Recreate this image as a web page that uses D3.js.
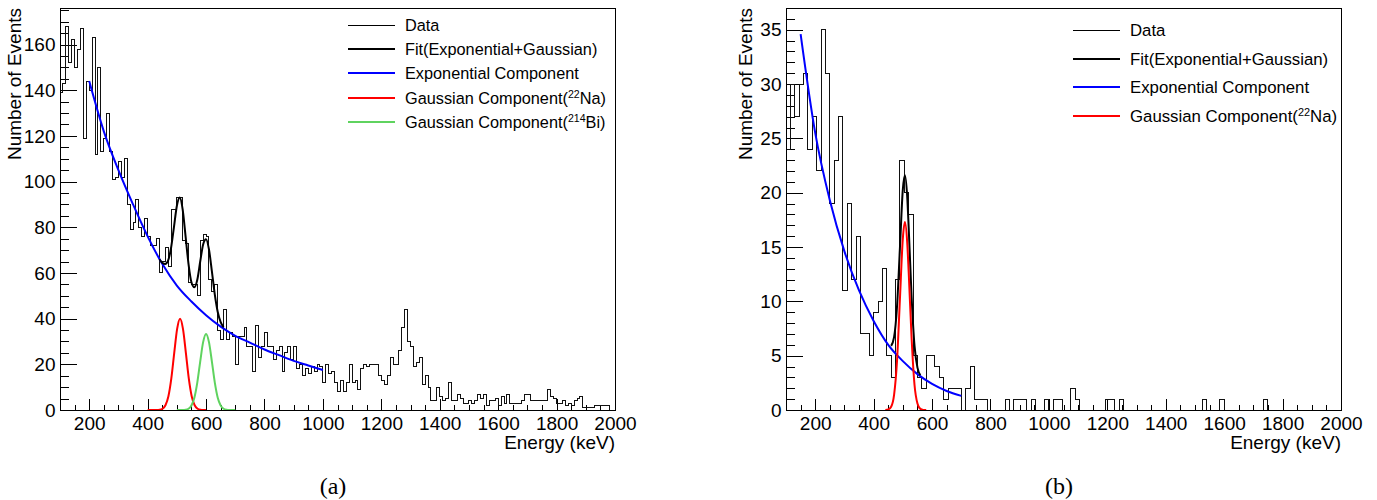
<!DOCTYPE html>
<html>
<head>
<meta charset="utf-8">
<title>Energy spectra</title>
<script src="https://cdn.jsdelivr.net/npm/d3@7"></script>
<style>
  body { margin: 0; background: #fff; }
  svg text { font-family: "Liberation Sans", Arial, Helvetica, sans-serif; fill: #000; }
  svg text.caption { font-family: "Liberation Serif", "DejaVu Serif", serif; }
</style>
</head>
<body>
<svg id="chart" width="1377" height="500"></svg>
<script>
// ---------- data ----------
// panel (a): 10 keV bins starting at 100 keV
var binStartA = 100, binWidthA = 10
var countsA = [
  139, 143, 168, 152, 162, 150, 158, 167, 119, 144,
  140, 163, 112, 150, 113, 119, 130, 113, 101, 102,
  109, 102, 110, 90, 79, 82, 92, 80, 76, 84,
  76, 72, 72, 75, 60, 65, 71, 63, 88, 88,
  93, 93, 74, 73, 56, 55, 55, 50, 74, 77,
  76, 57, 52, 55, 35, 31, 44, 31, 34, 32,
  20, 32, 32, 36, 28, 28, 17, 37, 23, 28,
  34, 28, 28, 22, 26, 28, 17, 25, 28, 22,
  28, 18, 20, 15, 18, 16, 19, 17, 20, 19,
  12, 20, 16, 17, 12, 8, 13, 8, 12, 20,
  12, 13, 9, 18, 20, 19, 20, 20, 20, 15,
  13, 11, 15, 23, 20, 20, 26, 36, 44, 30,
  28, 19, 21, 23, 11, 15, 10, 4, 4, 10,
  6, 4, 5, 12, 4, 4, 7, 5, 3, 3,
  4, 3, 4, 7, 5, 7, 2, 4, 4, 5,
  2, 6, 3, 7, 3, 3, 3, 3, 4, 7,
  7, 4, 4, 4, 4, 4, 4, 9, 6, 5,
  3, 3, 4, 2, 3, 2, 4, 5, 6, 1,
  1, 1, 1, 2, 2, 2, 2, 2
]
// panel (b): 15 keV bins starting at 100 keV
var binStartB = 100, binWidthB = 15
var countsB = [
  24, 30, 27, 30, 31, 24, 27, 22, 35, 31,
  19, 23, 27, 11, 19, 12, 16, 7, 7, 5,
  9, 10, 13, 5, 3, 12, 23, 20, 18, 5,
  3, 2, 5, 5, 4, 3, 1, 2, 2, 2,
  0, 2, 4, 1, 1, 1, 0, 0, 0, 0,
  1, 0, 1, 1, 1, 0, 1, 0, 0, 1,
  0, 1, 1, 0, 0, 2, 1, 0, 0, 0,
  0, 0, 0, 1, 1, 0, 1, 0, 0, 0,
  0, 0, 0, 0, 0, 0, 0, 0, 0, 0,
  0, 0, 0, 0, 0, 1, 0, 0, 0, 1,
  0, 0, 0, 0, 0, 0, 0, 0, 0, 1,
  0, 0, 0, 0, 0, 0, 0, 0, 0, 0,
  0, 0, 0, 0, 0, 0
]

// fitted curves, [energy keV, events] points
var fitA = [[440, 66], [450, 64.5], [460, 63.9], [470, 65.4], [480, 70.8], [490, 80], [500, 89.3],
  [510, 93], [520, 87.7], [530, 75.9], [540, 63.9], [550, 55.9], [560, 53.7], [570, 57], [580, 65],
  [590, 72.5], [600, 74.8], [610, 70.3], [620, 60.7], [630, 50.5], [640, 42.9], [650, 38.5], [660, 36.3]]
var expA = [[200, 144], [250, 122], [300, 105], [350, 90], [400, 76], [450, 64], [500, 54.5],
  [550, 47.5], [600, 41.5], [650, 36.5], [700, 32.5], [750, 29.5], [800, 26.5], [850, 24],
  [900, 21.5], [950, 19.5], [1000, 17.5]]
var naA = [[400, 0], [431, 0.02], [441, 0.12], [451, 0.55], [461, 2.1], [471, 5.9], [481, 13.7],
  [491, 24.9], [501, 35.5], [511, 40], [521, 35.5], [531, 24.9], [541, 13.7], [551, 5.9],
  [561, 2.1], [571, 0.55], [581, 0.12], [591, 0.02], [600, 0]]
var biA = [[500, 0], [520, 0.02], [530, 0.13], [540, 0.56], [550, 2], [560, 5.4], [570, 12],
  [580, 21.2], [590, 29.7], [600, 33.3], [610, 29.7], [620, 21.2], [630, 12], [640, 5.4],
  [650, 2], [660, 0.56], [670, 0.13], [680, 0.02], [700, 0]]

var fitB = [[460, 5.9], [470, 6.7], [480, 9.5], [490, 14.9], [500, 20.3], [507, 21.6], [515, 19.6],
  [520, 16.8], [530, 10.4], [540, 5.9], [550, 3.9], [560, 3.2]]
var expB = [[150, 34.6], [200, 25.5], [250, 19.3], [300, 14.6], [350, 11], [400, 8.2], [450, 6],
  [500, 4.5], [550, 3.3], [600, 2.4], [650, 1.75], [700, 1.3]]
var naB = [[440, 0], [450, 0.04], [460, 0.3], [470, 1.4], [480, 4.5], [490, 10.2], [500, 15.8],
  [507, 17.3], [515, 15.4], [520, 12.7], [530, 6.6], [540, 2.3], [550, 0.6], [560, 0.1],
  [570, 0.01], [580, 0]]

var xTicksMajor = [200, 400, 600, 800, 1000, 1200, 1400, 1600, 1800, 2000]
var yTicksA = [0, 20, 40, 60, 80, 100, 120, 140, 160]
var yTicksB = [0, 5, 10, 15, 20, 25, 30, 35]

var legendA = [
  { label: ['Data'], color: '#000', width: 1 },
  { label: ['Fit(Exponential+Gaussian)'], color: '#000', width: 2 },
  { label: ['Exponential Component'], color: '#0000ff', width: 2 },
  { label: ['Gaussian Component(', '^22', 'Na)'], color: '#ff0000', width: 2 },
  { label: ['Gaussian Component(', '^214', 'Bi)'], color: '#5fd35f', width: 2 }
]
var legendB = legendA.slice(0, 4)

// ---------- drawing ----------
var svg = d3.select('#chart')
svg.append('rect').attr('width', 1377).attr('height', 500).attr('fill', '#fff')

var plotTop = 8, plotBottom = 410

function drawPanel(p) {
  var x = d3.scaleLinear().domain([100, 2000]).range([p.x0, p.x1])
  var y = d3.scaleLinear().domain([0, p.yMax]).range([plotBottom, plotTop])
  var g = svg.append('g')

  // minor ticks
  var xMinor = d3.range(100, 2001, 50).filter(function(v) { return v % 200 != 0 })
  g.append('g')
    .attr('transform', 'translate(0,' + plotBottom + ')')
    .call(d3.axisBottom(x).tickValues(xMinor).tickSize(-5.5).tickFormat(''))
  var yMinor = d3.range(0, p.yMax, p.yMinor).filter(function(v) { return v % p.yStep != 0 })
  g.append('g')
    .attr('transform', 'translate(' + p.x0 + ',0)')
    .call(d3.axisLeft(y).tickValues(yMinor).tickSize(-8.5).tickFormat(''))

  // major ticks + labels
  g.append('g')
    .attr('transform', 'translate(0,' + plotBottom + ')')
    .call(d3.axisBottom(x).tickValues(xTicksMajor).tickSize(-11).tickPadding(6.5).tickFormat(d3.format('d')))
  g.append('g')
    .attr('transform', 'translate(' + p.x0 + ',0)')
    .call(d3.axisLeft(y).tickValues(p.yTicks).tickSize(-16.5).tickPadding(4.5).tickFormat(d3.format('d')))

  g.selectAll('.domain').remove()
  g.selectAll('.tick line').attr('stroke', '#000').attr('shape-rendering', 'crispEdges')
  g.selectAll('g').attr('font-family', null).attr('font-size', null)
  g.selectAll('.tick text').attr('font-size', 19)

  // histogram
  var pts = [[p.start, 0]]
  p.counts.forEach(function(c, i) { pts.push([p.start + i * p.width, c]) })
  var end = p.start + p.counts.length * p.width
  pts.push([end, p.counts[p.counts.length - 1]])
  pts.push([end, 0])
  var step = d3.line()
    .x(function(d) { return x(d[0]) })
    .y(function(d) { return y(d[1]) })
    .curve(d3.curveStepAfter)
  g.append('path').datum(pts)
    .attr('d', step)
    .attr('fill', 'none')
    .attr('stroke', '#111')
    .attr('stroke-width', 1)
    .attr('shape-rendering', 'crispEdges')

  // fitted curves
  var smooth = d3.line()
    .x(function(d) { return x(d[0]) })
    .y(function(d) { return y(d[1]) })
    .curve(d3.curveMonotoneX)
  p.curves.forEach(function(c) {
    g.append('path').datum(c.data)
      .attr('d', smooth)
      .attr('fill', 'none')
      .attr('stroke', c.color)
      .attr('stroke-width', 2)
  })

  // frame
  g.append('rect')
    .attr('x', p.x0).attr('y', plotTop)
    .attr('width', p.x1 - p.x0).attr('height', plotBottom - plotTop)
    .attr('fill', 'none').attr('stroke', '#000')
    .attr('shape-rendering', 'crispEdges')

  // axis titles
  g.append('text')
    .attr('transform', 'translate(' + p.yTitleX + ',' + plotTop + ') rotate(-90)')
    .attr('text-anchor', 'end')
    .attr('font-size', 19)
    .text('Number of Events')
  g.append('text')
    .attr('x', p.x1).attr('y', 449)
    .attr('text-anchor', 'end')
    .attr('font-size', 19)
    .text('Energy (keV)')

  // legend
  p.legend.forEach(function(e, i) {
    var ly = Math.round(p.legY + i * p.legGap)
    g.append('line')
      .attr('x1', p.legX).attr('x2', p.legX + 47)
      .attr('y1', ly).attr('y2', ly)
      .attr('stroke', e.color).attr('stroke-width', e.width)
      .attr('shape-rendering', 'crispEdges')
    var t = g.append('text')
      .attr('x', p.legX + 57).attr('y', ly + 6)
      .attr('font-size', p.legFont)
    e.label.forEach(function(s, k) {
      if (s[0] == '^') {
        t.append('tspan').attr('font-size', p.legFont * 0.65).attr('dy', -6).text(s.slice(1))
      } else {
        var ts = t.append('tspan').text(s)
        if (k > 0) ts.attr('dy', 6)
      }
    })
  })

  // caption
  g.append('text')
    .attr('class', 'caption')
    .attr('x', p.capX).attr('y', 494)
    .attr('text-anchor', 'middle')
    .attr('font-size', 24)
    .text(p.caption)
}

drawPanel({
  x0: 60, x1: 615, yMax: 176, yStep: 20, yMinor: 5, yTicks: yTicksA,
  start: binStartA, width: binWidthA, counts: countsA,
  curves: [
    { data: expA, color: '#0000ff' },
    { data: naA, color: '#ff0000' },
    { data: biA, color: '#5fd35f' },
    { data: fitA, color: '#000' }
  ],
  legend: legendA, legX: 348, legY: 25, legGap: 24.2, legFont: 16.3,
  yTitleX: 21, caption: '(a)', capX: 333
})

drawPanel({
  x0: 786, x1: 1341, yMax: 37, yStep: 5, yMinor: 1, yTicks: yTicksB,
  start: binStartB, width: binWidthB, counts: countsB,
  curves: [
    { data: expB, color: '#0000ff' },
    { data: fitB, color: '#000' },
    { data: naB, color: '#ff0000' }
  ],
  legend: legendB, legX: 1073, legY: 30, legGap: 28.6, legFont: 16.8,
  yTitleX: 752, caption: '(b)', capX: 1059
})
</script>
</body>
</html>
